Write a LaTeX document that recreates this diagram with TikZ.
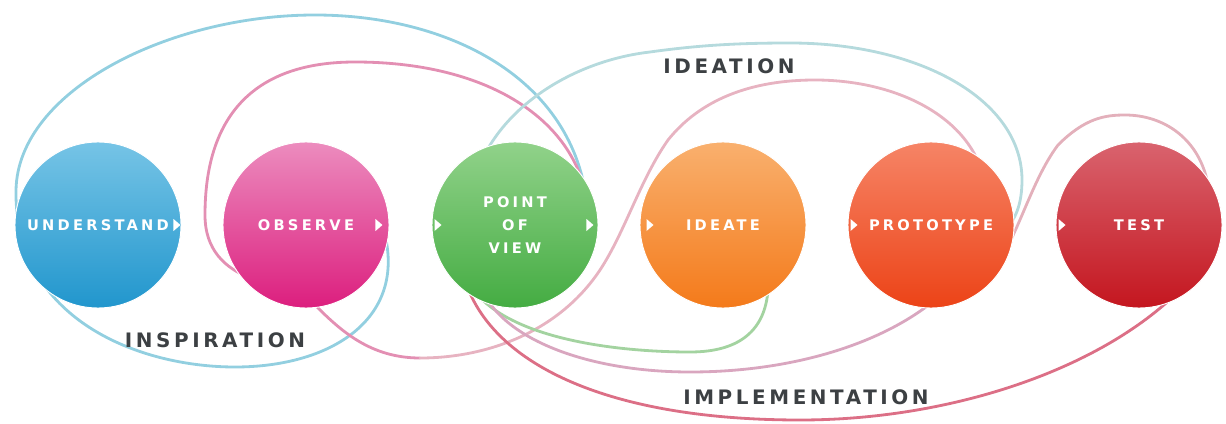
\documentclass[tikz,border=0pt]{standalone}
\usepackage{fontspec}
\usepackage{xcolor}
\newfontfamily\stagefont[LetterSpace=22]{DejaVu Sans}
\newfontfamily\phasefont[LetterSpace=18]{DejaVu Sans}
\definecolor{ubluetop}{RGB}{118,196,230}
\definecolor{ublue}{RGB}{33,150,205}
\definecolor{obspinktop}{RGB}{236,140,190}
\definecolor{obspink}{RGB}{220,30,126}
\definecolor{povgreentop}{RGB}{145,210,138}
\definecolor{povgreen}{RGB}{68,172,66}
\definecolor{ideaorangetop}{RGB}{249,176,110}
\definecolor{ideaorange}{RGB}{244,122,26}
\definecolor{protoredtop}{RGB}{246,132,102}
\definecolor{protored}{RGB}{236,67,23}
\definecolor{testredtop}{RGB}{217,99,110}
\definecolor{testred}{RGB}{196,22,31}
\definecolor{phasegray}{RGB}{60,64,67}
\definecolor{trailblue}{RGB}{146,207,224}
\definecolor{trailpink}{RGB}{227,143,179}
\definecolor{trailpeach}{RGB}{231,179,193}
\definecolor{trailteal}{RGB}{181,218,221}
\definecolor{trailgreen}{RGB}{163,211,160}
\definecolor{trailmauve}{RGB}{217,166,191}
\definecolor{trailred}{RGB}{220,111,134}
\definecolor{traillight}{RGB}{227,176,187}
\newcommand{\playmark}[1]{\fill[white] #1 -- ++(-7,-6) -- ++(0,12) -- cycle;}

\begin{document}
\begin{tikzpicture}[x=0.03cm, y=-0.03cm,
	stage/.style={circle, minimum size=4.98cm, inner sep=0pt, draw=white, line width=0.8pt, text=white, align=center, font=\stagefont\bfseries\fontsize{12.5pt}{20pt}\selectfont},
	phase/.style={text=phasegray, font=\phasefont\bfseries\fontsize{17pt}{19pt}\selectfont},
	trail/.style={line width=2.4pt, line cap=round}]
	\useasboundingbox (0,0) rectangle (1226,424);
	
	% inspiration
	\draw[trail, trailblue] (588,215) .. controls (580,80) and (450,15) .. (315,15) .. controls (170,15) and (18,90) .. (16,190) .. controls (14,320) and (140,367) .. (235,367) .. controls (330,367) and (405,320) .. (385,235);
	\draw[trail, trailpink] (588,215) .. controls (585,130) and (500,62) .. (355,62) .. controls (250,62) and (205,120) .. (205,215) .. controls (205,250) and (225,268) .. (250,278) .. controls (280,290) and (300,295) .. (315,305) .. controls (340,330) and (370,358) .. (420,358);
	
	% ideation
	\draw[trail, trailpeach] (420,358) .. controls (490,358) and (560,330) .. (600,270) .. controls (625,232) and (640,180) .. (668,140) .. controls (700,100) and (750,80) .. (815,80) .. controls (900,80) and (975,120) .. (985,185);
	\draw[trail, trailteal] (482,160) .. controls (510,100) and (580,60) .. (650,52) .. controls (700,45) and (740,43) .. (790,43) .. controls (920,43) and (1022,100) .. (1022,180) .. controls (1022,205) and (1015,220) .. (1005,230);
	\draw[trail, trailgreen] (470,285) .. controls (505,340) and (620,352) .. (690,352) .. controls (740,352) and (765,330) .. (768,290);
	
	% implementation
	\draw[trail, trailmauve] (480,285) .. controls (500,340) and (590,372) .. (690,372) .. controls (790,372) and (880,345) .. (935,300);
	\draw[trail, traillight] (985,280) .. controls (1015,250) and (1028,185) .. (1058,145) .. controls (1085,118) and (1105,115) .. (1125,115) .. controls (1165,115) and (1200,140) .. (1208,185);
	\draw[trail, trailred] (465,280) .. controls (490,360) and (600,420) .. (800,420) .. controls (950,420) and (1100,370) .. (1180,290);
	
	\node[stage, top color=ubluetop, bottom color=ublue] (understand) at (98,225) {UNDERSTAND};
	\node[stage, top color=obspinktop, bottom color=obspink] (observe) at (306,225) {OBSERVE};
	\node[stage, top color=povgreentop, bottom color=povgreen] (pov) at (515,225) {POINT\\OF\\VIEW};
	\node[stage, top color=ideaorangetop, bottom color=ideaorange] (ideate) at (723,225) {IDEATE};
	\node[stage, top color=protoredtop, bottom color=protored] (prototype) at (931,225) {PROTOTYPE};
	\node[stage, top color=testredtop, bottom color=testred] (test) at (1139,225) {TEST};
	
	\playmark{([xshift=-0.03cm]understand.east)}
	\playmark{([xshift=-0.21cm]observe.east)}
	\playmark{([xshift=0.3cm]pov.west)}
	\playmark{([xshift=-0.15cm]pov.east)}
	\playmark{([xshift=0.42cm]ideate.west)}
	\playmark{([xshift=0.3cm]prototype.west)}
	\playmark{([xshift=0.3cm]test.west)}
	
	\node[phase] (inspiration) at (215,340) {INSPIRATION};
	\node[phase] (ideation) at (729,66) {IDEATION};
	\node[phase] (implementation) at (806,397) {IMPLEMENTATION};
	
\end{tikzpicture}
\end{document}
